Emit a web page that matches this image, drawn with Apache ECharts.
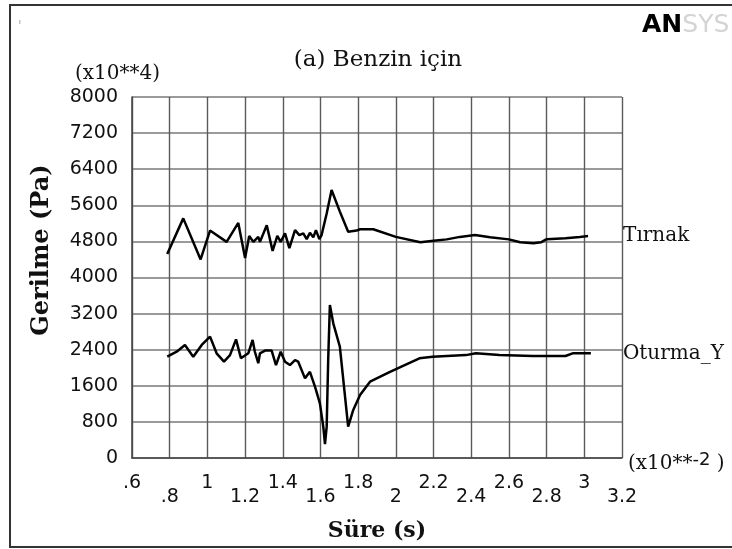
<!DOCTYPE html>
<html>
<head>
<meta charset="utf-8">
<script src="https://cdn.jsdelivr.net/npm/echarts@6/dist/echarts.min.js"></script>
<style>
  html, body { margin: 0; padding: 0; background: #fff; }
  #chart { width: 732px; height: 549px; }
</style>
</head>
<body>
<div id="chart"></div>
<script>
// x ticks (x10**-2 s) and y ticks (x10**4 Pa)
const xTicks = [0.6, 0.8, 1, 1.2, 1.4, 1.6, 1.8, 2, 2.2, 2.4, 2.6, 2.8, 3, 3.2];
const yTicks = [0, 800, 1600, 2400, 3200, 4000, 4800, 5600, 6400, 7200, 8000];

// Tırnak
const tirnakTime = [0.787, 0.872, 0.964, 1.014, 1.102, 1.164, 1.2, 1.222, 1.244, 1.27, 1.279, 1.315,
  1.346, 1.371, 1.389, 1.412, 1.435, 1.465, 1.488, 1.509, 1.527, 1.544, 1.562, 1.576, 1.594, 1.606,
  1.633, 1.659, 1.703, 1.747, 1.792, 1.81, 1.88, 2.0, 2.13, 2.2, 2.27, 2.34, 2.42, 2.5, 2.6, 2.66,
  2.73, 2.77, 2.8, 2.9, 2.976, 3.02];
const tirnakStress = [4520, 5310, 4400, 5040, 4790, 5210, 4430, 4920, 4790, 4900, 4790, 5160,
  4590, 4920, 4790, 4980, 4650, 5050, 4940, 4980, 4850, 4990, 4890, 5050, 4850, 4940,
  5420, 5940, 5460, 5015, 5040, 5070, 5070, 4900, 4780, 4815, 4845, 4900, 4940, 4890, 4845, 4780,
  4760, 4780, 4850, 4870, 4900, 4920];

// Oturma_Y
const oturmaTime = [0.787, 0.837, 0.881, 0.925, 0.97, 1.014, 1.049, 1.088, 1.12, 1.152, 1.178, 1.217,
  1.24, 1.252, 1.27, 1.279, 1.306, 1.341, 1.364, 1.389, 1.412, 1.438, 1.465, 1.482, 1.518, 1.544,
  1.571, 1.597, 1.615, 1.624, 1.633, 1.641, 1.65, 1.668, 1.703, 1.747, 1.774, 1.81, 1.863, 1.969,
  2.125, 2.195, 2.372, 2.425, 2.55, 2.726, 2.9, 2.938, 3.035];
const oturmaStress = [2245, 2355, 2505, 2245, 2505, 2690, 2320, 2135, 2280, 2630, 2210, 2320,
  2615, 2355, 2100, 2320, 2380, 2380, 2060, 2355, 2135, 2060, 2170, 2135, 1765, 1910,
  1580, 1210, 695, 310, 695, 2170, 3390, 2985, 2465, 695, 1065, 1395, 1690, 1910,
  2210, 2245, 2280, 2320, 2280, 2260, 2260, 2320, 2320];

const zip = (xs, ys) => xs.map((x, i) => [x, ys[i]]);

const chart = echarts.init(document.getElementById('chart'));

chart.setOption({
  backgroundColor: '#fff',
  animation: false,
  title: [
    {
      text: '(a) Benzin için',
      left: 373, top: 44, textAlign: 'center',
      textStyle: { fontFamily: 'DejaVu Serif', fontSize: 23, fontWeight: 'normal', color: '#111' }
    },
    {
      text: '(x10**4)',
      left: 70, top: 59,
      textStyle: { fontFamily: 'DejaVu Serif', fontSize: 20, fontWeight: 'normal', color: '#111' }
    },
    {
      text: '(x10**{s|-2} )',
      left: 623, top: 446,
      textStyle: {
        fontFamily: 'DejaVu Serif', fontSize: 20, fontWeight: 'normal', color: '#111',
        rich: { s: { fontFamily: 'DejaVu Sans', fontSize: 18, padding: [0, 0, 7, 0], color: '#111' } }
      }
    },
    {
      text: '{a|AN}{b|SYS}',
      left: 637, top: 8,
      textStyle: {
        rich: {
          a: { fontFamily: 'DejaVu Sans', fontWeight: 'bold', fontSize: 25, color: '#000' },
          b: { fontFamily: 'DejaVu Sans', fontWeight: 'normal', fontSize: 25, color: '#d4d4d4' }
        }
      }
    }
  ],
  graphic: [
    { type: 'rect', shape: { x: 10, y: 5, width: 760, height: 542 }, style: { fill: 'none', stroke: '#333', lineWidth: 2 } },
    { type: 'text', x: 19, y: 18, style: { text: 'ι', fontSize: 8, fill: '#888' } },
    {
      type: 'text', x: 42, y: 250, rotation: Math.PI / 2,
      style: {
        text: 'Gerilme (Pa)', fontFamily: 'DejaVu Serif', fontWeight: 'bold', fontSize: 24,
        fill: '#111', align: 'center', verticalAlign: 'middle'
      }
    }
  ],
  grid: { left: 132, right: 110, top: 97, bottom: 91 },
  xAxis: {
    type: 'value',
    min: xTicks[0], max: xTicks[xTicks.length - 1], interval: 0.2,
    name: 'Süre (s)',
    nameLocation: 'middle',
    nameGap: 62,
    nameTextStyle: { fontFamily: 'DejaVu Serif', fontWeight: 'bold', fontSize: 22, color: '#111' },
    axisLine: { show: true, lineStyle: { color: '#444', width: 1.5 } },
    axisTick: { show: false },
    axisLabel: {
      margin: 18,
      fontFamily: 'DejaVu Sans', fontSize: 19, color: '#111', lineHeight: 14,
      formatter: function (value) {
        const idx = Math.round((value - xTicks[0]) / 0.2);
        const s = String(Number(value.toFixed(1))).replace(/^0\./, '.');
        return idx % 2 ? '\n' + s : s;
      }
    },
    splitLine: { show: true, lineStyle: { color: '#5a5a5a', width: 1.4 } }
  },
  yAxis: {
    type: 'value',
    min: yTicks[0], max: yTicks[yTicks.length - 1], interval: 800,
    axisLine: { show: true, lineStyle: { color: '#444', width: 1.5 } },
    axisTick: { show: false },
    axisLabel: {
      margin: 14, fontFamily: 'DejaVu Sans', fontSize: 19, color: '#111',
      formatter: function (value) { return String(value); }
    },
    splitLine: { show: true, lineStyle: { color: '#9a9a9a', width: 2 } }
  },
  series: [
    {
      name: 'Tırnak',
      type: 'line',
      data: zip(tirnakTime, tirnakStress),
      showSymbol: false,
      lineStyle: { color: '#000', width: 2.5 },
      endLabel: {
        show: true, formatter: '{a}', distance: 35,
        fontFamily: 'DejaVu Serif', fontSize: 20, color: '#111'
      }
    },
    {
      name: 'Oturma_Y',
      type: 'line',
      data: zip(oturmaTime, oturmaStress),
      showSymbol: false,
      lineStyle: { color: '#000', width: 2.5 },
      endLabel: {
        show: true, formatter: '{a}', distance: 32,
        fontFamily: 'DejaVu Serif', fontSize: 20, color: '#111'
      }
    }
  ]
});
</script>
</body>
</html>
